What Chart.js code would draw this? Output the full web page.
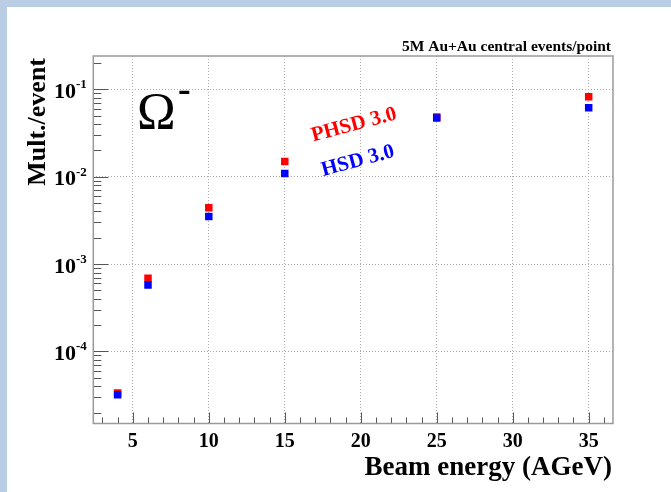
<!DOCTYPE html>
<html>
<head>
<meta charset="utf-8">
<script src="https://cdn.jsdelivr.net/npm/chart.js@4/dist/chart.umd.min.js"></script>
<style>
  body { margin: 0; background: #fff; }
  #wrap { position: relative; width: 671px; height: 492px; background: #fff; }
  .band { position: absolute; background: #b9cde5; }
  #myChart { position: absolute; left: 0; top: 0; }
</style>
</head>
<body>
<div id="wrap">
  <div class="band" style="left:0;top:0;width:671px;height:7px;"></div>
  <div class="band" style="left:0;top:0;width:7px;height:492px;"></div>
  <canvas id="myChart" width="671" height="492"></canvas>
</div>
<script>
// data
var energies = [4, 6, 10, 15, 25, 35];
var phsdMult = [3.35e-5, 6.9e-4, 4.4e-3, 1.49e-2, 4.8e-2, 8.2e-2];
var hsdMult  = [3.2e-5, 5.75e-4, 3.5e-3, 1.09e-2, 4.7e-2, 6.15e-2];
var xMajorTicks = [5, 10, 15, 20, 25, 30, 35];
var yDecades = [1e-4, 1e-3, 1e-2, 1e-1];
var yDecadeLabels = ['-4', '-3', '-2', '-1'];

var serif = '"Liberation Serif", "DejaVu Serif", serif';

function toPoints(xs, ys) {
    return xs.map(function(x, i) { return { x: x, y: ys[i] }; });
}

function isDecade(v) {
    var l = Math.log10(v);
    return Math.abs(l - Math.round(l)) < 1e-6;
}

// ROOT style: frame, inward ticks, superscript labels, texts
var rootStyle = {
    id: 'rootStyle',
    afterDraw: function(chart) {
        var ctx = chart.ctx;
        var a = chart.chartArea;
        var xs = chart.scales.x;
        var ys = chart.scales.y;
        ctx.save();

        // tick marks pointing inside
        ctx.strokeStyle = '#555';
        ctx.lineWidth = 1;
        ctx.beginPath();
        xs.ticks.forEach(function(t) {
            var px = Math.round(xs.getPixelForValue(t.value)) + 0.5;
            var len = (t.value % 5 === 0) ? 11 : 6;
            ctx.moveTo(px, a.bottom);
            ctx.lineTo(px, a.bottom - len);
        });
        ys.ticks.forEach(function(t) {
            var py = Math.round(ys.getPixelForValue(t.value)) + 0.5;
            var len = isDecade(t.value) ? 15 : 8;
            ctx.moveTo(a.left, py);
            ctx.lineTo(a.left + len, py);
        });
        ctx.stroke();

        // frame
        ctx.strokeStyle = '#9a9a9a';
        ctx.lineWidth = 1.5;
        ctx.strokeRect(a.left, a.top, a.right - a.left, a.bottom - a.top);

        // y labels 10^n
        ctx.fillStyle = '#000';
        yDecades.forEach(function(d, i) {
            var py = ys.getPixelForValue(d);
            ctx.font = 'bold 22px ' + serif;
            ctx.textAlign = 'right';
            ctx.textBaseline = 'alphabetic';
            ctx.fillText('10', 76, py + 8.5);
            ctx.font = 'bold 13px ' + serif;
            ctx.textAlign = 'left';
            ctx.fillText(yDecadeLabels[i], 76, py - 1);
        });

        // header
        ctx.font = 'bold 15.5px ' + serif;
        ctx.textAlign = 'right';
        ctx.fillText('5M Au+Au central events/point', 611, 51);

        // axis titles
        ctx.font = 'bold 27px ' + serif;
        ctx.textAlign = 'right';
        ctx.fillText('Beam energy (AGeV)', 612, 475);

        ctx.save();
        ctx.translate(45, 58);
        ctx.rotate(-Math.PI / 2);
        ctx.font = 'bold 26px ' + serif;
        ctx.textAlign = 'right';
        ctx.fillText('Mult./event', 0, 0);
        ctx.restore();

        // particle
        ctx.font = '52px ' + serif;
        ctx.textAlign = 'left';
        ctx.fillText('\u03A9', 137, 129);
        ctx.font = 'bold 38px ' + serif;
        ctx.fillText('-', 178, 101);

        // model labels
        ctx.font = 'bold 21px ' + serif;
        ctx.textAlign = 'center';
        ctx.textBaseline = 'middle';
        ctx.save();
        ctx.translate(354, 125);
        ctx.rotate(-15 * Math.PI / 180);
        ctx.fillStyle = '#ff0000';
        ctx.fillText('PHSD 3.0', 0, 0);
        ctx.restore();
        ctx.save();
        ctx.translate(358, 161);
        ctx.rotate(-15 * Math.PI / 180);
        ctx.fillStyle = '#0000ff';
        ctx.fillText('HSD 3.0', 0, 0);
        ctx.restore();

        ctx.restore();
    }
};

var chart = new Chart(document.getElementById('myChart').getContext('2d'), {
    type: 'scatter',
    data: {
        datasets: [{
            label: 'HSD 3.0',
            data: toPoints(energies, hsdMult),
            backgroundColor: '#0000ff',
            borderWidth: 0,
            pointStyle: 'rect',
            pointRadius: 5.3
        }, {
            label: 'PHSD 3.0',
            data: toPoints(energies, phsdMult),
            backgroundColor: '#ff0000',
            borderWidth: 0,
            pointStyle: 'rect',
            pointRadius: 5.3
        }]
    },
    options: {
        responsive: false,
        animation: false,
        devicePixelRatio: 1,
        layout: { padding: { top: 56, right: 58, left: 0, bottom: 0 } },
        plugins: {
            legend: { display: false },
            tooltip: { enabled: false }
        },
        scales: {
            x: {
                type: 'linear',
                min: 2.4,
                max: 36.6,
                afterBuildTicks: function(scale) {
                    var t = [];
                    for (var v = 3; v <= 36; v++) t.push({ value: v });
                    scale.ticks = t;
                },
                afterFit: function(scale) { scale.height = 68.5; },
                border: { display: false, dash: [1, 2] },
                grid: {
                    drawTicks: false,
                    color: function(c) {
                        return c.tick && xMajorTicks.indexOf(c.tick.value) >= 0 ? '#aaa' : 'rgba(0,0,0,0)';
                    }
                },
                ticks: {
                    autoSkip: false,
                    maxRotation: 0,
                    padding: 6,
                    color: '#000',
                    font: { family: serif, size: 20, weight: 'bold' },
                    callback: function(v) { return xMajorTicks.indexOf(v) >= 0 ? String(v) : ''; }
                }
            },
            y: {
                type: 'logarithmic',
                min: 1.5e-5,
                max: 0.24,
                afterBuildTicks: function(scale) {
                    var t = [];
                    for (var e = -5; e <= -1; e++) {
                        for (var k = 1; k <= 9; k++) {
                            var v = k * Math.pow(10, e);
                            if (v >= 1.5e-5 && v <= 0.24) t.push({ value: v });
                        }
                    }
                    scale.ticks = t;
                },
                afterFit: function(scale) { scale.width = 93.3; },
                border: { display: false, dash: [1, 2] },
                grid: {
                    drawTicks: false,
                    color: function(c) {
                        return c.tick && isDecade(c.tick.value) ? '#aaa' : 'rgba(0,0,0,0)';
                    }
                },
                ticks: { display: false }
            }
        }
    },
    plugins: [rootStyle]
});
</script>
</body>
</html>
